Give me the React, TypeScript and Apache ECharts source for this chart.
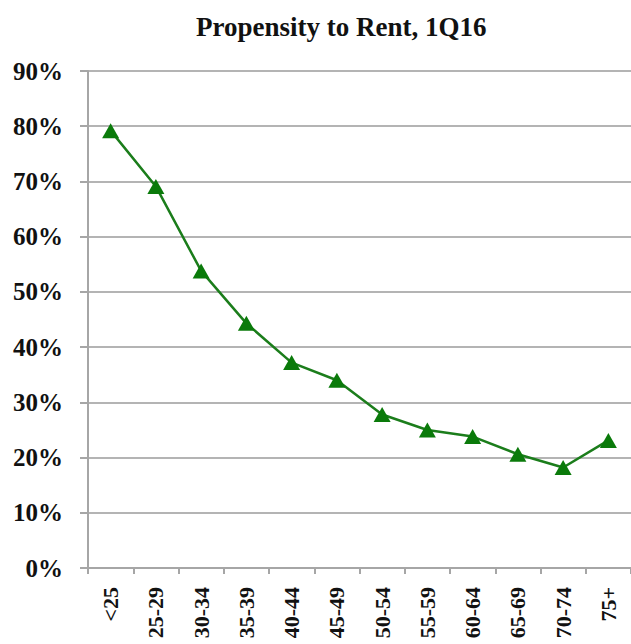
import React, { useEffect, useRef } from "react";
import * as echarts from "echarts";

const title = "Propensity to Rent, 1Q16";
const categories = ["<25", "25-29", "30-34", "35-39", "40-44", "45-49", "50-54", "55-59", "60-64", "65-69", "70-74", "75+"];
const propensity = [79.2, 69.1, 53.8, 44.3, 37.2, 34.0, 27.8, 25.0, 23.8, 20.6, 18.2, 23.1];
const yMin = 0;
const yMax = 90;
const yInterval = 10;

const serif = "Liberation Serif";

export default function App() {
  const ref = useRef<HTMLDivElement>(null);
  useEffect(() => {
    if (!ref.current) return;
    const chart = echarts.init(ref.current, undefined, { renderer: "svg" });
    chart.setOption({
      animation: false,
      backgroundColor: "#ffffff",
      title: {
        text: title,
        left: 191,
        top: 8,
        textStyle: { fontFamily: serif, fontWeight: "bold", fontSize: 27, color: "#111" },
      },
      grid: { left: 88, top: 71, width: 548, bottom: 76, containLabel: false },
      xAxis: {
        type: "category",
        data: categories,
        boundaryGap: true,
        axisLine: { show: true, lineStyle: { color: "#a6a6a6", width: 2 } },
        axisTick: { show: true, alignWithLabel: false, length: 6, lineStyle: { color: "#a6a6a6", width: 2 } },
        axisLabel: {
          rotate: 90,
          margin: 19,
          interval: 0,
          fontFamily: serif,
          fontWeight: "bold",
          fontSize: 22,
          color: "#111",
        },
        splitLine: { show: false },
      },
      yAxis: {
        type: "value",
        min: yMin,
        max: yMax,
        interval: yInterval,
        axisLine: { show: true, lineStyle: { color: "#a6a6a6", width: 2 } },
        axisTick: { show: true, length: 8, lineStyle: { color: "#a6a6a6", width: 2 } },
        axisLabel: {
          margin: 25,
          formatter: "{value}%",
          fontFamily: serif,
          fontWeight: "bold",
          fontSize: 25,
          color: "#111",
        },
        splitLine: { show: true, lineStyle: { color: "#b4b4b4", width: 2 } },
      },
      series: [
        {
          type: "line",
          data: propensity,
          symbol: "triangle",
          symbolSize: [17, 15],
          lineStyle: { color: "#1b7d1b", width: 2.5 },
          itemStyle: { color: "#0a7a0a" },
        },
      ],
    });
    return () => chart.dispose();
  }, []);
  return <div ref={ref} style={{ position: "fixed", left: 0, top: 0, width: 631, height: 644 }} />;
}
